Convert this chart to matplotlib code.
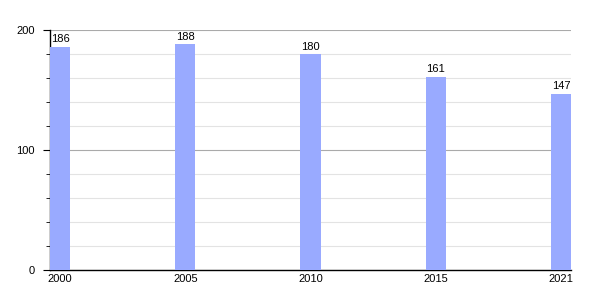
import matplotlib.pyplot as plt
from matplotlib.ticker import MultipleLocator

plt.rcParams['font.family'] = ['Liberation Sans', 'DejaVu Sans']

years = ["2000", "2005", "2010", "2015", "2021"]
values = [186, 188, 180, 161, 147]

fig = plt.figure(figsize=(6, 3), dpi=100)
ax = fig.add_axes([50 / 600, 30 / 300, 521 / 600, 240 / 300])

w = 0.16
x = list(range(len(years)))
ax.bar(x, values, width=w, color="#99aaff", zorder=3)
for xi, v in zip(x, values):
    ax.text(xi, v + 2, str(v), ha="center", va="bottom", fontsize=8, zorder=4)

ax.set_xlim(-w / 2, len(years) - 1 + w / 2)
ax.set_ylim(0, 200)
ax.set_xticks(x)
ax.set_xticklabels(years, fontsize=8)
ax.yaxis.set_major_locator(MultipleLocator(100))
ax.yaxis.set_minor_locator(MultipleLocator(20))
ax.tick_params(axis="y", which="major", length=5, labelsize=8, pad=6)
ax.tick_params(axis="y", which="minor", length=3)
ax.tick_params(axis="x", length=0, pad=3)

ax.grid(axis="y", which="major", color="#aaaaaa", linewidth=0.8, zorder=0)
ax.grid(axis="y", which="minor", color="#e3e3e3", linewidth=0.8, zorder=0)
for s in ["top", "right"]:
    ax.spines[s].set_visible(False)
ax.spines["left"].set_linewidth(1)
ax.spines["bottom"].set_linewidth(1)

fig.savefig("out.png", dpi=100)
